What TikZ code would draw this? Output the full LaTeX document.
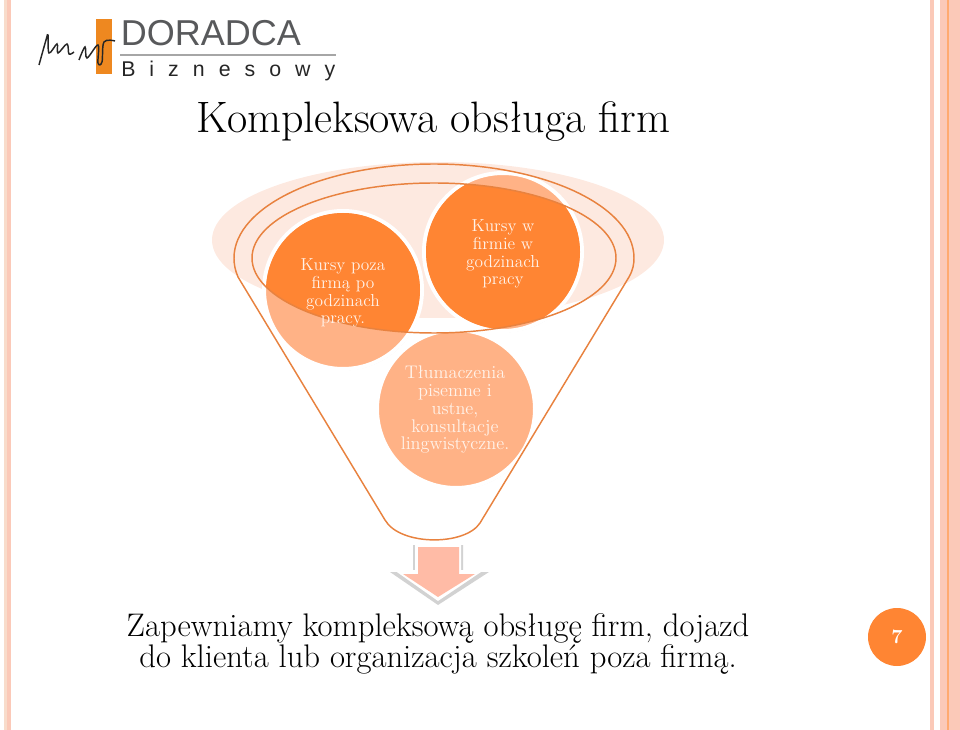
\documentclass[tikz,border=0pt]{standalone}
\usepackage{fontspec}
\usepackage{tikz}
\usetikzlibrary{shadows}
\newfontfamily\logofont{Liberation Sans}
\definecolor{fireorange}{HTML}{FF8533}
\definecolor{softorange}{HTML}{FFB286}
\definecolor{paleorange}{HTML}{FDE9E0}
\definecolor{stripepink}{HTML}{FBC9B8}
\definecolor{stripetan}{HTML}{F8DCCB}
\definecolor{funnelline}{HTML}{E8823F}
\definecolor{logogray}{HTML}{58595B}
\definecolor{logoorange}{HTML}{EE8820}
\definecolor{arrowpink}{HTML}{FFBBA6}
\definecolor{labelcream}{HTML}{FFF3EA}
\tikzset{
  disc/.style={circle,minimum size=118.5pt,inner sep=0pt,fill=softorange,draw=white,line width=3pt,
    drop shadow={shadow xshift=0.7pt,shadow yshift=-1pt,opacity=.3}},
  disclabel/.style={align=center,text=labelcream,font=\fontsize{13}{13.3}\selectfont},
  heading/.style={font=\fontsize{33}{36}\selectfont},
  closing/.style={align=center,font=\addfontfeature{LetterSpace=3}\fontsize{24.5}{23.3}\selectfont}
}
\begin{document}
\begin{tikzpicture}[x=0.75pt,y=-0.75pt]
    \useasboundingbox (0,0) rectangle (960,730);
    \fill[stripetan] (3.5,0) rectangle (7,730);
    \fill[stripepink] (7,0) rectangle (11,730);
    \fill[stripepink] (930,0) rectangle (934,730);
    \fill[stripepink] (940,0) rectangle (960,730);
    \draw[fireorange!70,line width=0.8pt] (948,0) -- (948,730);
    % logo
    \fill[logoorange] (96,19) rectangle (112,74);
    \node[anchor=base west,inner sep=0pt,text=logogray,font=\logofont\fontsize{27}{27}\selectfont] (doradca) at (120.5,46) {DORADCA};
    \draw[gray!70,line width=0.8pt] (120,55) -- (336,55);
    \node[anchor=base west,inner sep=0pt,text=black!85,font=\logofont\fontsize{16}{16}\selectfont] (biznesowy) at (121,77) {B\hspace{10.5pt}i\hspace{10.5pt}z\hspace{10.5pt}n\hspace{10.5pt}e\hspace{10.5pt}s\hspace{10.5pt}o\hspace{10.5pt}w\hspace{10.5pt}y};
    \draw[black!85,line width=1.1pt] plot[smooth,tension=0.6] coordinates {(39,65) (46,40) (48,35) (49,53) (57,44) (58,53) (67,44) (69,54) (74,52)};
    \draw[black!85,line width=1.1pt] plot[smooth,tension=0.6] coordinates {(79,60) (85,47) (87,58) (98,45) (98,63) (102,62) (104,42) (115,41)};
    % title
    \node[heading,anchor=base] (title) at (433.5,133) {Kompleksowa obsługa firm};
    % funnel
    \fill[paleorange] (438,240) ellipse (226 and 78);
    \node[disc] (left) at (343,290) {};
    \node[disc] (right) at (503,252) {};
    \node[disc] (bottom) at (456,409) {};
    \begin{scope}
      \clip (434,258) ellipse (182 and 75);
      \fill[fireorange] (left) circle (77);
      \fill[fireorange] (right) circle (77);
    \end{scope}
    \draw[funnelline,line width=1.1pt] (434,258) ellipse (182 and 75);
    \draw[funnelline,line width=1.1pt] (238,277) .. controls (235,270) and (234,264) .. (234,258) .. controls (234,206) and (324,164) .. (434,164) .. controls (544,164) and (634,206) .. (634,258) .. controls (634,264) and (633,270) .. (629,277) -- (480,523) .. controls (465,546) and (400,546) .. (385,520) -- cycle;
    \node[disclabel] (leftlabel) at (343,293) {Kursy poza\\firmą po\\godzinach\\pracy.};
    \node[disclabel] (rightlabel) at (503,254) {Kursy w\\firmie w\\godzinach\\pracy};
    \node[disclabel,font=\fontsize{13.7}{13.3}\selectfont] (bottomlabel) at (455,410) {Tłumaczenia\\pisemne i\\ustne,\\konsultacje\\lingwistyczne.};
    % arrow
    \fill[gray!35] (413,545) -- (463,545) -- (463,572) -- (489,572) -- (438,605) -- (390,572) -- (413,572) -- cycle;
    \fill[white] (415,543) -- (461,543) -- (461,570) -- (484,570) -- (438,601) -- (394,570) -- (415,570) -- cycle;
    \fill[arrowpink] (418,547) -- (459,547) -- (459,574) -- (475,574) -- (438,597) -- (403,574) -- (418,574) -- cycle;
    % closing
    \node[closing] (closing) at (438,644) {Zapewniamy kompleksową obsługę firm, dojazd\\do klienta lub organizacja szkoleń poza firmą.};
    % page number
    \node[circle,fill=fireorange,minimum size=43.5pt,inner sep=0pt,text=white,font=\bfseries\fontsize{15}{15}\selectfont] (page) at (897,637) {7};
\end{tikzpicture}
\end{document}
